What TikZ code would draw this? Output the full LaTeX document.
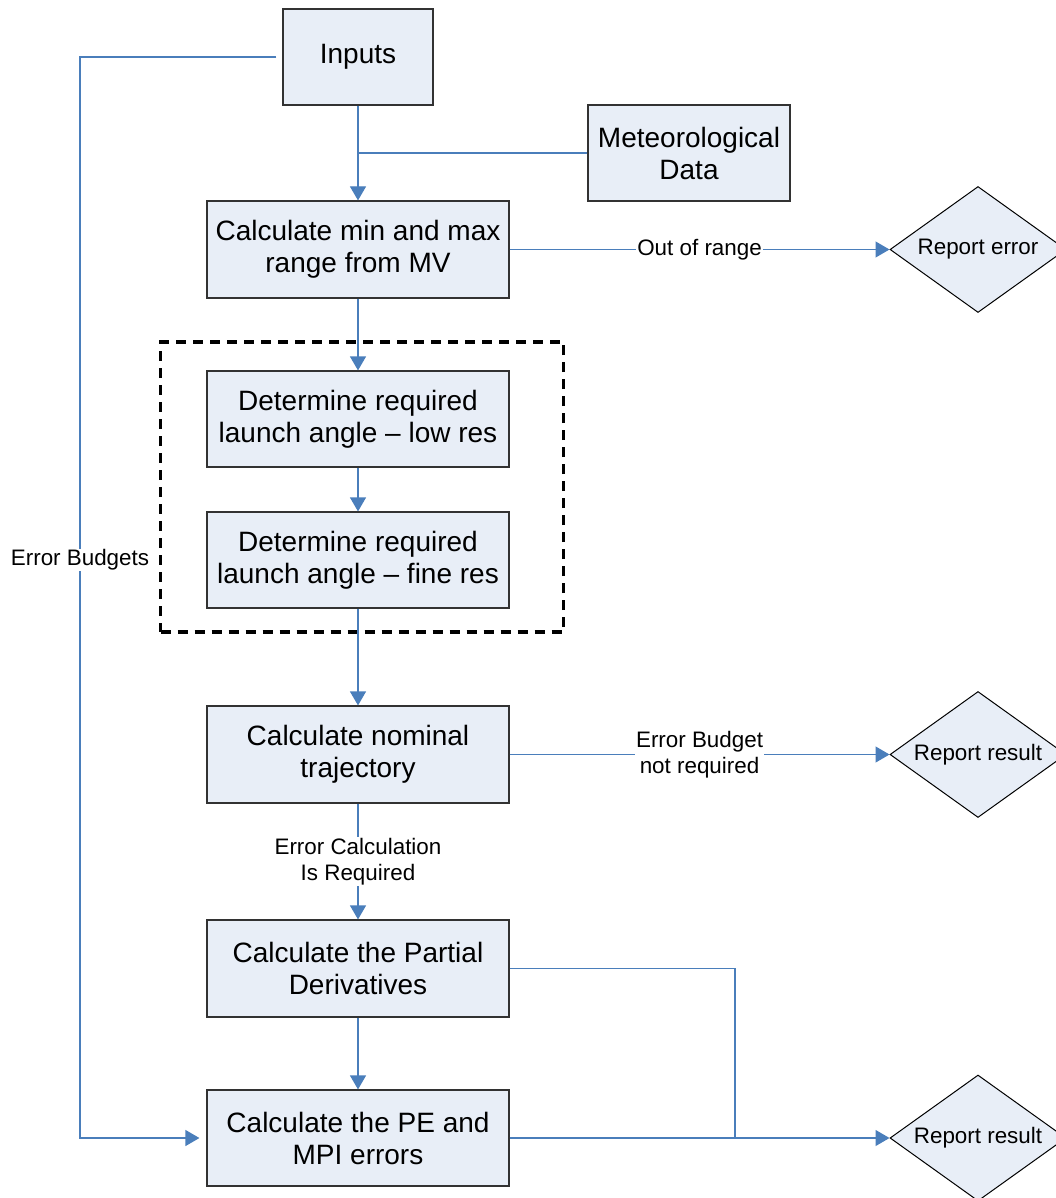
\documentclass[tikz,border=0pt]{standalone}
\usepackage{fontspec}
\setmainfont{Liberation Sans}
\usetikzlibrary{shapes.geometric,arrows.meta}
\definecolor{lineblue}{RGB}{74,126,187}
\definecolor{boxfill}{RGB}{232,238,247}
\definecolor{boxedge}{RGB}{50,50,50}
\tikzset{
  procbox/.style={draw=boxedge, line width=1.2pt, fill=boxfill, rectangle, inner sep=0pt,
    minimum width=302pt, minimum height=97pt, align=center,
    font=\fontsize{28}{32}\selectfont},
  decbox/.style={draw=black, line width=1pt, fill=boxfill, diamond, aspect=1.4, inner sep=0pt,
    minimum width=176pt, minimum height=126pt, align=center,
    font=\fontsize{22.4}{25}\selectfont},
  conn/.style={draw=lineblue, line width=1.2pt},
  arr/.style={conn, -{Triangle[length=14pt,width=16pt]}, color=lineblue},
  lab/.style={fill=white, text=black, inner sep=1pt, align=center, font=\fontsize{22.4}{25.5}\selectfont},
  groupbox/.style={draw=black, line width=3.2pt, dash pattern=on 10pt off 7pt, rectangle,
    inner sep=0pt, minimum width=403pt, minimum height=290pt}
}
\begin{document}
\begin{tikzpicture}[x=1pt,y=-1pt]
\useasboundingbox (0,0) rectangle (1056,1198);
% group box
\node[groupbox] (group) at (362,487) {};
% nodes
\node[procbox, minimum width=150pt, minimum height=96pt] (inputs) at (358,57) {Inputs};
\node[procbox, minimum width=202pt, minimum height=96pt] (met) at (689,153) {Meteorological\\Data};
\node[procbox] (calc) at (358,249.5) {Calculate min and max\\range from MV};
\node[procbox, minimum height=96pt] (low) at (358,419) {Determine required\\launch angle -- low res};
\node[procbox, minimum height=96pt] (fine) at (358,560) {Determine required\\launch angle -- fine res};
\node[procbox] (nom) at (358,754.5) {Calculate nominal\\trajectory};
\node[procbox] (part) at (358,968.5) {Calculate the Partial\\Derivatives};
\node[procbox, minimum height=96pt] (pe) at (358,1138) {Calculate the PE and\\MPI errors};
\node[decbox] (rerr) at (978,249.5) {Report error};
\node[decbox] (res1) at (978,754.5) {Report result};
\node[decbox] (res2) at (978,1138) {Report result};
% helper coordinates
\coordinate (j1) at (358,153);
\coordinate (eb1) at (80,57);
\coordinate (eb2) at (80,1138);
\coordinate (j2) at (735,968.5);
\coordinate (j3) at (735,1138);
% connectors
\draw[arr] (inputs) -- (calc);
\draw[conn] (met.west) -- (j1);
\draw[arr, shorten <=6pt, shorten >=7pt] (inputs.west) -- (eb1) -- (eb2) -- (pe.west);
\node[lab] (eblab) at (80,560) {Error Budgets};
\draw[arr] (calc) -- node[lab] (oor) {Out of range} (rerr);
\draw[arr] (calc) -- (low);
\draw[arr] (low) -- (fine);
\draw[arr] (fine) -- (nom);
\draw[arr] (nom) -- node[lab] (ebnr) {Error Budget\\not required} (res1);
\draw[arr] (nom) -- node[lab] (ecr) {Error Calculation\\Is Required} (part);
\draw[arr] (part) -- (pe);
\draw[conn] (part.east) -- (j2) -- (j3);
\draw[arr] (pe) -- (res2);
\end{tikzpicture}
\end{document}
